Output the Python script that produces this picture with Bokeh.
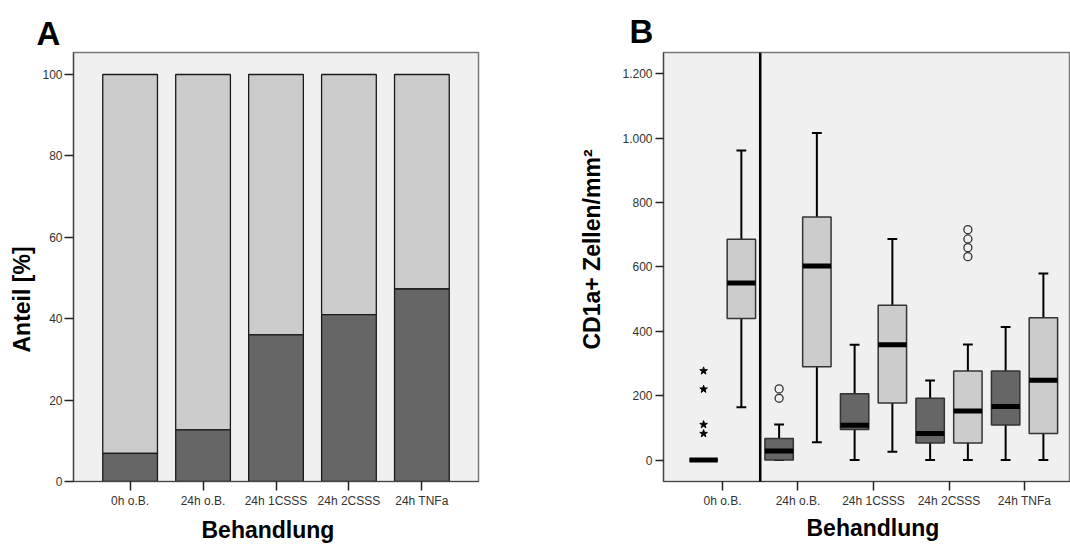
from bokeh.plotting import figure
from bokeh.models import FactorRange, Range1d, Span, FixedTicker, Title
from bokeh.layouts import row
from bokeh.embed import file_html
from bokeh.resources import INLINE

# ---------------- data ----------------
categories = ["0h o.B.", "24h o.B.", "24h 1CSSS", "24h 2CSSS", "24h TNFa"]

# Panel A: stacked percentages
share_dark = [6.9, 12.7, 36.0, 41.0, 47.3]
share_total = [100, 100, 100, 100, 100]
a_yticks = [0, 20, 40, 60, 80, 100]

# Panel B: box plot statistics (dark group / light group)
dark_lower = [0, 0, 0, 0, 0]
dark_q1 = [0, 0, 95, 53, 109]
dark_med = [0, 28, 108, 82, 166]
dark_q3 = [0, 67, 206, 192, 277]
dark_upper = [0, 110, 358, 247, 413]

light_lower = [164, 55, 26, 0, 0]
light_q1 = [440, 290, 177, 53, 82]
light_med = [550, 603, 358, 152, 248]
light_q3 = [686, 755, 481, 277, 442]
light_upper = [962, 1016, 687, 359, 580]

star_cat = [0, 0, 0, 0]          # extreme values (dark group)
star_val = [277, 220, 110, 82]
circ_cat = [1, 1, 3, 3, 3, 3]    # outliers
circ_grp = ["dark", "dark", "light", "light", "light", "light"]
circ_val = [221, 192, 716, 687, 660, 632]

b_yticks = [0, 200, 400, 600, 800, 1000, 1200]
b_ylabels = {0: "0", 200: "200", 400: "400", 600: "600", 800: "800",
             1000: "1.000", 1200: "1.200"}

# ---------------- style ----------------
FONT = "Liberation Sans"
BG = "#f0f0f0"
DARK = "#666666"
LIGHT = "#cccccc"
TICK_COL = "#333333"


def style_axes(p):
    p.background_fill_color = BG
    p.border_fill_color = "white"
    p.outline_line_color = "#777777"
    p.outline_line_width = 1.5
    p.xgrid.visible = False
    p.ygrid.visible = False
    for ax in (p.xaxis[0], p.yaxis[0]):
        ax.axis_line_color = "#444444"
        ax.axis_line_width = 1.2
        ax.major_tick_line_color = "#222222"
        ax.major_tick_line_width = 1.5
        ax.major_tick_in = 0
        ax.minor_tick_line_color = None
        ax.major_label_text_font = FONT
        ax.major_label_text_font_size = "12px"
        ax.major_label_text_color = TICK_COL


def big_title(text, size, align, offset, valign, standoff):
    return Title(text=text, text_font=FONT, text_font_size=size,
                 text_font_style="bold", text_color="black", align=align,
                 offset=offset, vertical_align=valign, standoff=standoff)


# ---------------- Panel A ----------------
pA = figure(x_range=FactorRange(*categories, range_padding=0.276,
                                range_padding_units="absolute"),
            y_range=Range1d(0, 105.4), width=558, height=549,
            min_border_left=73, min_border_right=80, min_border_top=49,
            min_border_bottom=68, output_backend="svg", toolbar_location=None)
style_axes(pA)
pA.yaxis.ticker = FixedTicker(ticks=a_yticks)
pA.yaxis.major_tick_out = 9
pA.yaxis.major_label_standoff = 2
pA.xaxis.major_tick_out = 9
pA.xaxis.major_label_standoff = 3

pA.vbar(x=categories, bottom=share_dark, top=share_total, width=0.75,
        fill_color=LIGHT, line_color="#1a1a1a", line_width=1.3)
pA.vbar(x=categories, bottom=0, top=share_dark, width=0.75,
        fill_color=DARK, line_color="#1a1a1a", line_width=1.3)

pA.title = big_title("A", "33px", "left", -37, "bottom", 2)
pA.add_layout(big_title("Anteil [%]", "23px", "left", 129, "bottom", 9), "left")
pA.add_layout(big_title("Behandlung", "23px", "left", 128, "bottom", 8), "below")

# ---------------- Panel B ----------------
pB = figure(x_range=Range1d(-0.781, 4.609), y_range=Range1d(-66.8, 1266.5),
            width=512, height=549, min_border_left=105, min_border_right=0,
            min_border_top=52, min_border_bottom=64, output_backend="svg",
            toolbar_location=None)
style_axes(pB)
pos = list(range(len(categories)))
pB.xaxis.ticker = FixedTicker(ticks=pos)
pB.xaxis.major_label_overrides = {i: c for i, c in enumerate(categories)}
pB.yaxis.ticker = FixedTicker(ticks=b_yticks)
pB.yaxis.major_label_overrides = b_ylabels
pB.yaxis.major_tick_out = 8
pB.yaxis.major_label_standoff = 3
pB.xaxis.major_tick_out = 9
pB.xaxis.major_label_standoff = 3

OFF = 0.25
BW = 0.376
CAP = 0.065
groups = [
    ([p - OFF for p in pos], dark_lower, dark_q1, dark_med, dark_q3, dark_upper, DARK),
    ([p + OFF for p in pos], light_lower, light_q1, light_med, light_q3, light_upper, LIGHT),
]
for xs, lo, q1, med, q3, up, col in groups:
    pB.segment(x0=xs, y0=q3, x1=xs, y1=up, line_color="black", line_width=2)
    pB.segment(x0=xs, y0=q1, x1=xs, y1=lo, line_color="black", line_width=2)
    pB.segment(x0=[x - CAP for x in xs], y0=up, x1=[x + CAP for x in xs], y1=up,
               line_color="black", line_width=2)
    pB.segment(x0=[x - CAP for x in xs], y0=lo, x1=[x + CAP for x in xs], y1=lo,
               line_color="black", line_width=2)
    pB.vbar(x=xs, bottom=q1, top=q3, width=BW, fill_color=col,
            line_color="#333333", line_width=1.5)
    pB.segment(x0=[x - BW / 2 for x in xs], y0=med, x1=[x + BW / 2 for x in xs],
               y1=med, line_color="black", line_width=5, line_cap="butt")

pB.scatter(x=[c - OFF for c in star_cat], y=star_val, marker="star", size=8,
           fill_color="black", line_color="black")
pB.scatter(x=[c - OFF if g == "dark" else c + OFF for c, g in zip(circ_cat, circ_grp)],
           y=circ_val, marker="circle", size=8, fill_color=None,
           line_color="#333333", line_width=1.3)

pB.add_layout(Span(location=0.5, dimension="height", line_color="black",
                   line_width=2.5))

pB.title = big_title("B", "33px", "left", -34, "bottom", 5)
pB.add_layout(big_title("CD1a+ Zellen/mm²", "23px", "left", 132, "bottom", 30), "left")
pB.add_layout(big_title("Behandlung", "23px", "left", 143, "bottom", 4), "below")

layout = row(pA, pB)
open("out.html", "w").write(file_html(layout, INLINE))
